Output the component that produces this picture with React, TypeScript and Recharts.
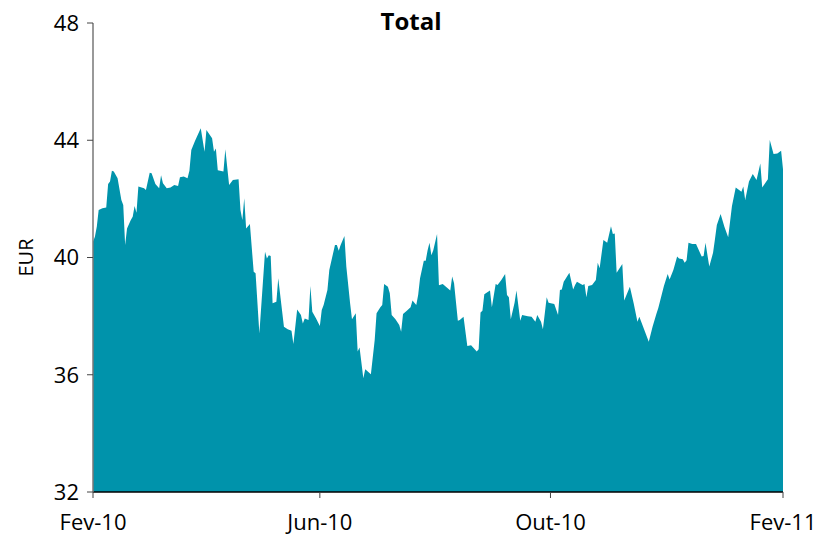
import { AreaChart, Area, XAxis, YAxis } from "recharts"

// days since 1 Feb 2010
const days = [
  0, 1, 2, 3, 5, 7, 8, 9, 10, 11, 13, 15, 16, 17, 18, 20, 21, 22, 23, 24, 27, 28, 30, 31, 33, 35, 36, 37, 39, 41, 43, 45, 46, 48, 50, 51, 52, 54, 57, 59, 60,
  63, 64, 65, 66, 69, 70, 72, 74, 77, 78, 79, 80, 81, 83, 85, 86, 88, 91, 92, 93, 94, 95, 97, 98, 101, 103, 105, 106, 108, 110, 111, 112, 114, 115, 116, 118, 120, 121, 122,
  124, 125, 128, 129, 130, 131, 133, 134, 136, 137, 139, 140, 141, 143, 144, 147, 149, 150, 152, 153, 154, 156, 157, 158, 160, 162, 163, 164, 166, 168, 169, 171, 172, 173, 175, 176, 177, 178, 179, 180, 182,
  183, 185, 189, 190, 191, 193, 194, 196, 198, 200, 203, 204, 205, 206, 207, 210, 211, 213, 214, 216, 218, 219, 220, 221, 223, 224, 226, 227, 230, 232, 234, 235, 237, 238, 240, 241, 244,
  246, 247, 248, 249, 252, 254, 255, 256, 259, 260, 261, 262, 264, 266, 267, 268, 270, 272, 274, 275, 276, 277, 280, 281, 284, 286, 288, 289, 292, 294, 296, 298, 299, 302, 304,
  305, 307, 309, 310, 312, 313, 314, 315, 317, 319, 322, 323, 324, 326, 328, 329, 330, 332, 334, 336, 338, 340, 343, 344, 345, 347, 349, 351, 353, 354, 357, 358, 360, 362, 364, 365,
]

const eur = [
  40.54, 40.71, 41.05, 41.62, 41.68, 41.71, 42.51, 42.59, 42.96, 42.93, 42.7, 41.96, 41.79, 40.43, 40.99, 41.28, 41.39, 41.76, 41.53, 42.42, 42.36, 42.3, 42.89, 42.87, 42.51, 42.36, 42.81, 42.53, 42.36, 42.39, 42.47, 42.44, 42.74, 42.76, 42.7, 42.96, 43.67, 43.98, 44.41, 43.61, 44.35,
  44.07, 43.61, 43.72, 42.98, 42.93, 43.69, 42.47, 42.64, 42.67, 41.62, 41.28, 42.02, 40.99, 41.14, 39.51, 39.46, 37.41, 40.2, 39.97, 40.08, 40.05, 38.44, 38.49, 39.29, 37.64, 37.55, 37.5, 37.05, 38.23, 38.04, 37.75, 37.92, 37.87, 39.03, 38.15, 37.92, 37.66, 38.21, 38.38,
  38.89, 39.57, 40.43, 40.43, 40.23, 40.43, 40.73, 39.69, 38.44, 37.89, 38.1, 36.79, 36.93, 35.88, 36.19, 36.02, 37.18, 38.1, 38.3, 38.38, 39.1, 39.0, 38.78, 38.04, 37.89, 37.7, 37.47, 38.07, 38.18, 38.3, 38.53, 38.38, 38.72, 39.29, 39.89, 39.89, 40.25, 40.5, 40.08, 40.25, 40.8,
  39.05, 39.1, 38.87, 39.35, 39.12, 37.84, 37.87, 37.98, 36.98, 37.01, 36.79, 36.87, 38.12, 38.18, 38.75, 38.87, 38.3, 39.1, 39.06, 39.23, 39.44, 38.72, 38.64, 37.89, 38.46, 38.87, 37.84, 38.04, 38.0, 37.98, 37.81, 38.04, 37.81, 37.55, 38.64, 38.46, 38.41,
  38.04, 38.89, 38.91, 39.17, 39.48, 38.91, 39.06, 39.17, 39.06, 39.1, 38.64, 39.03, 39.06, 39.23, 39.82, 39.63, 40.6, 40.5, 41.07, 40.8, 40.82, 39.48, 39.78, 38.53, 39.0, 38.44, 37.81, 37.98, 37.47, 37.13, 37.64, 38.07, 38.27, 39.03, 39.44,
  39.25, 39.57, 40.03, 39.97, 39.94, 39.82, 39.91, 40.5, 40.46, 40.46, 40.03, 40.05, 40.5, 39.69, 40.16, 40.62, 41.11, 41.48, 41.05, 40.69, 41.76, 42.39, 42.24, 42.42, 41.96, 42.59, 42.85, 42.64, 43.21, 42.39, 42.67, 44.01, 43.53, 43.55, 43.64, 43.01,
]

const tickDays = [0, 120, 242, 365]
const tickLabels = ["Fev-10", "Jun-10", "Out-10", "Fev-11"]
const yTicks = [32, 36, 40, 44, 48]

const data = days.map((d, i) => ({ day: d, eur: eur[i] }))

const font = "'Open Sans', sans-serif"

export default function App() {
  return (
    <div style={{ position: "absolute", left: 0, top: 0, width: 820, height: 540, background: "#fff", fontFamily: font }}>
      <div style={{ position: "absolute", left: 0, width: 822, top: 4, textAlign: "center", fontSize: 24, fontWeight: 700, color: "#000" }}>
        Total
      </div>
      <AreaChart width={820} height={540} data={data} margin={{ top: 23, right: 37, bottom: 0, left: 0 }}>
        <XAxis
          dataKey="day"
          type="number"
          domain={[0, 365]}
          ticks={tickDays}
          interval={0}
          tickFormatter={(v: number) => tickLabels[tickDays.indexOf(v)]}
          height={48}
          tickSize={6}
          tickMargin={16}
          axisLine={{ stroke: "#000", strokeWidth: 1.5 }}
          tickLine={{ stroke: "#444" }}
          tick={{ fill: "#000", fontSize: 22, fontFamily: font }}
        />
        <YAxis
          type="number"
          domain={[32, 48]}
          ticks={yTicks}
          interval={0}
          width={93}
          tickSize={6}
          tickMargin={8}
          axisLine={{ stroke: "#777", strokeWidth: 1.5 }}
          tickLine={{ stroke: "#444" }}
          tick={{ fill: "#000", fontSize: 22, fontFamily: font }}
          label={{
            content: (p: any) => {
              const vb = p.viewBox || { x: 0, y: 23, height: 469 }
              const cx = 25
              const cy = vb.y + vb.height / 2
              return (
                <text x={cx} y={cy} transform={`rotate(-90 ${cx} ${cy})`} textAnchor="middle" dominantBaseline="central" fontSize={20} fontFamily={font} fill="#000">
                  EUR
                </text>
              )
            },
          }}
        />
        <Area
          type="linear"
          dataKey="eur"
          stroke="none"
          fill="#0093AB"
          fillOpacity={1}
          dot={false}
          activeDot={false}
          isAnimationActive={false}
        />
      </AreaChart>
    </div>
  )
}
